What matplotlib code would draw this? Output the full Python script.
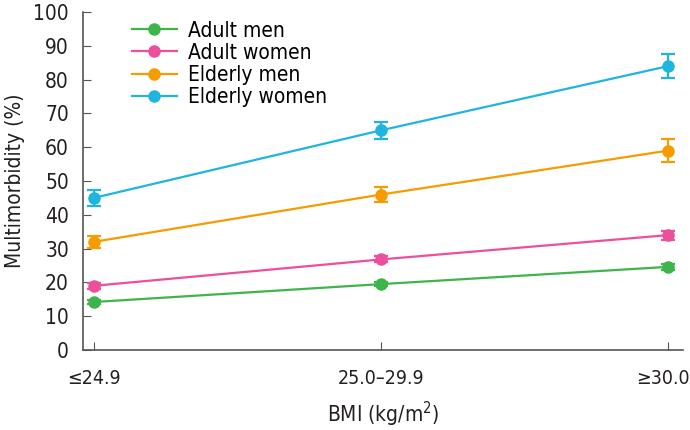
import matplotlib
matplotlib.use("Agg")
import matplotlib.pyplot as plt
import matplotlib.transforms as mtransforms
from matplotlib.lines import Line2D

plt.rcParams['font.family'] = ['DejaVu Sans']
plt.rcParams['font.stretch'] = 'condensed'

categories = ["\u226424.9", "25.0\u201329.9", "\u226530.0"]
groups = ["Adult men", "Adult women", "Elderly men", "Elderly women"]
values = {
    "Adult men": [14.2, 19.5, 24.6],
    "Adult women": [19.0, 26.8, 34.0],
    "Elderly men": [32.0, 46.0, 59.0],
    "Elderly women": [45.0, 65.0, 84.0],
}
errors = {
    "Adult men": [0.6, 0.6, 0.9],
    "Adult women": [0.8, 0.9, 1.3],
    "Elderly men": [1.7, 2.2, 3.3],
    "Elderly women": [2.3, 2.5, 3.5],
}
colors = ["#3db54a", "#ec4f9b", "#f59c00", "#1fb5de"]

fig = plt.figure(figsize=(6.9, 4.3), dpi=100)
ax = fig.add_axes([0.12, 0.186, 0.87, 0.786])

x = list(range(len(categories)))
handles = []
for name, c in zip(groups, colors):
    ax.errorbar(x, values[name], yerr=errors[name], color=c, marker="o",
                markersize=8, linewidth=1.6, capsize=5, capthick=1.6,
                elinewidth=1.6)
    handles.append(Line2D([], [], color=c, marker="o", markersize=8,
                          linewidth=1.6, label=name))

ax.set_xlim(-0.038, 2.052)
ax.set_ylim(0, 100)
ax.set_yticks(range(0, 101, 10))
ax.set_xticks(x)
ax.set_xticklabels(categories)
ax.tick_params(axis="both", direction="in", length=6, color="#555555",
               labelsize=15, labelcolor="#231f20")
ax.tick_params(axis="x", pad=14, labelsize=14)
ax.tick_params(axis="y", pad=10)
# last label sits at the right edge, nudge it a little inward
last = ax.get_xticklabels()[-1]
last.set_transform(last.get_transform() +
                   mtransforms.ScaledTranslation(-5 / 100, 0, fig.dpi_scale_trans))
for s in ["top", "right"]:
    ax.spines[s].set_visible(False)
for s in ["left", "bottom"]:
    ax.spines[s].set_color("#555555")
    ax.spines[s].set_linewidth(1.2)

ax.set_ylabel("Multimorbidity (%)", fontsize=15, color="#231f20", labelpad=6)
ax.set_xlabel("BMI (kg/m$^2$)", fontsize=15, color="#231f20", labelpad=8)

ax.legend(handles=handles, loc="upper left", bbox_to_anchor=(0.05, 1.03),
          frameon=False, fontsize=15, handlelength=2.2, labelspacing=0.1,
          handletextpad=0.5)

fig.savefig("out.png", dpi=100)
